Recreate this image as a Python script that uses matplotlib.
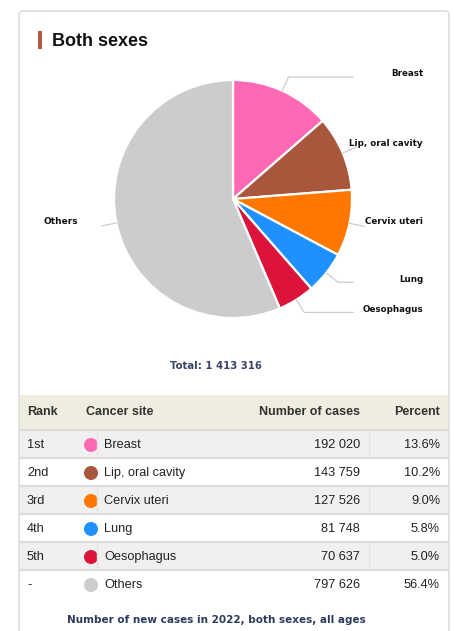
import numpy as np
import matplotlib
matplotlib.use('Agg')
import matplotlib.pyplot as plt
from matplotlib.patches import FancyBboxPatch, Rectangle, Circle

# data
sites = ['Breast', 'Lip, oral cavity', 'Cervix uteri', 'Lung', 'Oesophagus', 'Others']
ranks = ['1st', '2nd', '3rd', '4th', '5th', '-']
cases = [192020, 143759, 127526, 81748, 70637, 797626]
percents = [13.6, 10.2, 9.0, 5.8, 5.0, 56.4]
total = 1413316
colors = ['#ff69b4', '#a8573c', '#ff7700', '#1e90ff', '#dc143c', '#cccccc']

W, H = 454, 631

def Y(y):
    # pixel row from top -> data y
    return H - y

def fmt(n):
    return '{:,}'.format(n).replace(',', ' ')

fig = plt.figure(figsize=(W / 100, H / 100), dpi=100)
ax = fig.add_axes([0, 0, 1, 1])
ax.set_xlim(0, W)
ax.set_ylim(0, H)
ax.axis('off')

# card outline
card = FancyBboxPatch((19, Y(640)), 430, 629, boxstyle='round,pad=0,rounding_size=4',
                      fc='white', ec='#dddddd', lw=1.2, zorder=0)
ax.add_patch(card)

# title
ax.add_patch(Rectangle((37.5, Y(49)), 4.5, 18, fc='#b5583f', ec='none'))
ax.text(52, Y(41), 'Both sexes', fontsize=13, fontweight='bold', family='Liberation Sans',
        color='#111111', va='center', ha='left')

# pie
cx, cy, r = 233, Y(199), 119
wedges, _ = ax.pie(cases, colors=colors, startangle=90, counterclock=False,
                   center=(cx, cy), radius=r,
                   wedgeprops=dict(edgecolor='white', linewidth=1.6, joinstyle='round'))
ax.set_xlim(0, W)
ax.set_ylim(0, H)
ax.set_aspect('auto')

# leader lines and labels
label_y = [73, 143, 222, 279, 310, 222]
for w, name, ly in zip(wedges, sites, label_y):
    mid = np.deg2rad((w.theta1 + w.theta2) / 2)
    ex, ey = cx + r * np.cos(mid), cy + r * np.sin(mid)
    bx, by = cx + 134 * np.cos(mid), cy + 134 * np.sin(mid)
    if name == 'Others':
        ax.plot([ex, bx], [ey, by], color='#cccccc', lw=0.9, zorder=1)
        ax.text(78, Y(ly), name, fontsize=6.5, fontweight='bold', family='DejaVu Sans',
                color='#111111', ha='right', va='center')
    else:
        endx = max(353, bx)
        ax.plot([ex, bx, endx], [ey, by, by], color='#cccccc', lw=0.9, zorder=1)
        ax.text(423, Y(ly), name, fontsize=6.3, fontweight='bold', family='DejaVu Sans',
                color='#111111', ha='right', va='center')

ax.text(216, Y(366), 'Total: ' + fmt(total), fontsize=7.3, fontweight='bold',
        family='DejaVu Sans', color='#3a4466', ha='center', va='center')

# table header
ax.add_patch(Rectangle((20, Y(430)), 428, 35, fc='#efece0', ec='none'))
hdr = dict(fontsize=9, fontweight='bold', family='Liberation Sans', color='#333333', va='center')
ax.text(27, Y(412), 'Rank', ha='left', **hdr)
ax.text(86, Y(412), 'Cancer site', ha='left', **hdr)
ax.text(360, Y(412), 'Number of cases', ha='right', **hdr)
ax.text(440, Y(412), 'Percent', ha='right', **hdr)

# table rows
row_h = 28
top = 430
cell = dict(fontsize=9.2, family='Liberation Sans', color='#222222', va='center')
for i in range(len(sites)):
    y0 = top + i * row_h
    yc = y0 + row_h / 2 + 1
    if i % 2 == 0:
        ax.add_patch(Rectangle((20, Y(y0 + row_h)), 428, row_h, fc='#f0f0f0', ec='none'))
        ax.plot([97, 97], [Y(y0 + 1), Y(y0 + row_h - 1)], color='#e2e2e2', lw=1)
        ax.plot([369, 369], [Y(y0 + 1), Y(y0 + row_h - 1)], color='#e2e2e2', lw=1)
    if i < len(sites) - 1:
        ax.plot([20, 448], [Y(y0 + row_h), Y(y0 + row_h)], color='#dcdcdc', lw=1.6)
    ax.add_patch(Circle((91, Y(yc)), 7, fc=colors[i], ec='none'))
    ax.text(27, Y(yc), ranks[i], ha='left', **cell)
    ax.text(104, Y(yc), sites[i], ha='left', **cell)
    ax.text(360, Y(yc), fmt(cases[i]), ha='right', **cell)
    ax.text(440, Y(yc), '{:.1f}%'.format(percents[i]), ha='right', **cell)
ax.plot([20, 448], [Y(top), Y(top)], color='#dcdcdc', lw=1.6)

ax.text(216, Y(620), 'Number of new cases in 2022, both sexes, all ages', fontsize=7.5,
        fontweight='bold', family='DejaVu Sans', color='#2d3a5c', ha='center', va='center')

fig.savefig('out.png', dpi=100)
